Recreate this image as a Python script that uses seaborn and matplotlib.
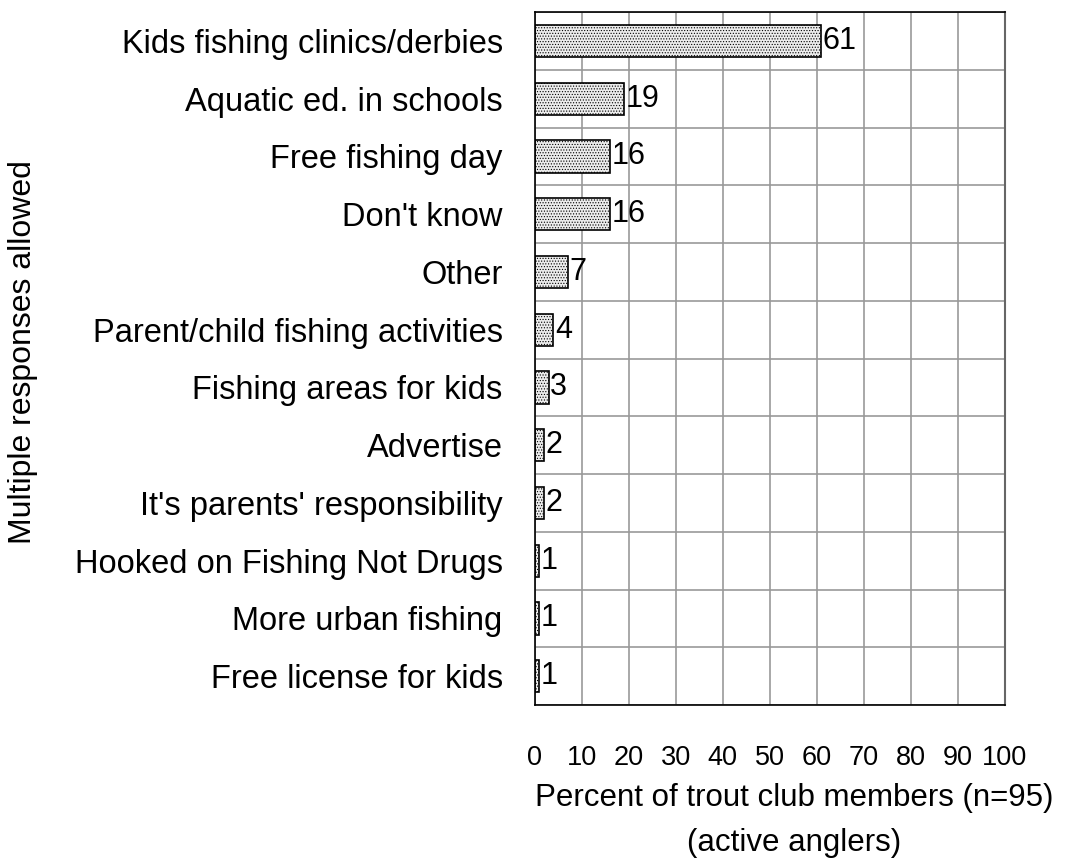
import numpy as np
import matplotlib.pyplot as plt
import pandas as pd
import seaborn as sns
from matplotlib.ticker import MultipleLocator

categories = ["Kids fishing clinics/derbies", "Aquatic ed. in schools", "Free fishing day",
              "Don't know", "Other", "Parent/child fishing activities", "Fishing areas for kids",
              "Advertise", "It's parents' responsibility", "Hooked on Fishing Not Drugs",
              "More urban fishing", "Free license for kids"]
percents = [61, 19, 16, 16, 7, 4, 3, 2, 2, 1, 1, 1]

data = pd.DataFrame({"category": categories, "percent": percents})

sns.set_style("white")
plt.rcParams['font.family'] = ['Liberation Sans', 'DejaVu Sans']
plt.rcParams['text.color'] = 'black'
plt.rcParams['xtick.labelcolor'] = 'black'
plt.rcParams['ytick.labelcolor'] = 'black'
plt.rcParams['axes.labelcolor'] = 'black'
plt.rcParams['hatch.color'] = '#8a8a8a'
plt.rcParams['hatch.linewidth'] = 0.5

fig = plt.figure(figsize=(10.91, 8.63), dpi=100)
ax = fig.add_axes([0.490, 0.183, 0.431, 0.803])

sns.barplot(data=data, x="percent", y="category", orient="h", color="#ececec",
            width=0.56, edgecolor="black", linewidth=1.2, ax=ax)
for bar in ax.patches:
    bar.set_hatch("......")

for i, v in enumerate(percents):
    ax.text(v + 0.3, i, str(v), va="center", ha="left", fontsize=22)

ax.set_xlim(0, 100)
ax.set_ylim(len(categories) - 0.5, -0.5)
ax.xaxis.set_major_locator(MultipleLocator(10))
ax.xaxis.set_minor_locator(MultipleLocator(5))
ax.set_yticks(np.arange(len(categories) + 1) - 0.5, minor=True)
ax.grid(True, which="major", axis="x", color="#999999", linewidth=1.2)
ax.grid(True, which="minor", axis="y", color="#999999", linewidth=1.2)
ax.set_axisbelow(True)

ax.tick_params(axis="x", which="major", direction="out", length=12, width=1, color="#888888",
               labelsize=19.5, pad=17)
ax.tick_params(axis="x", which="minor", direction="out", length=7, width=1, color="#888888")
ax.tick_params(axis="y", which="major", length=0, labelsize=23.5, pad=23)
ax.tick_params(axis="y", which="minor", direction="out", length=6, color="#999999")

for s in ["left", "bottom", "top"]:
    ax.spines[s].set_color("black")
    ax.spines[s].set_linewidth(1.2)
ax.spines["right"].set_color("#666666")
ax.spines["right"].set_linewidth(1.5)

ax.set_xlabel("Percent of trout club members (n=95)\n(active anglers)", fontsize=22.5,
              linespacing=1.65)
ax.xaxis.set_label_coords(0.553, -0.113)
ax.xaxis.label.set_va("top")
ax.set_ylabel("")
fig.text(0.021, 1 - 352 / 863, "Multiple responses allowed", rotation=90, va="center",
         ha="center", fontsize=23)

fig.savefig("out.png", dpi=100)
